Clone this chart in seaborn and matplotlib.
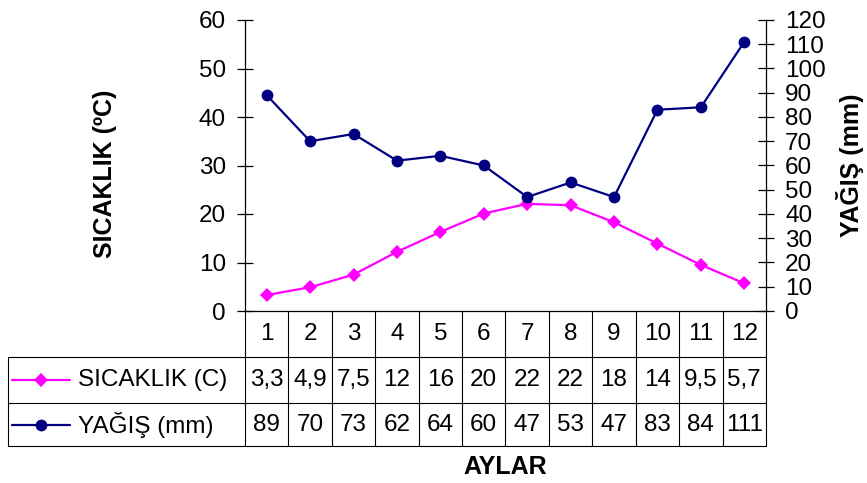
import matplotlib
matplotlib.use("Agg")
import matplotlib.pyplot as plt
import matplotlib.transforms as mtransforms
import seaborn as sns

# monthly climate data
months = [1, 2, 3, 4, 5, 6, 7, 8, 9, 10, 11, 12]
temperature = [3.3, 4.9, 7.5, 12.2, 16.3, 20.1, 22.1, 21.8, 18.3, 13.9, 9.5, 5.7]
precipitation = [89, 70, 73, 62, 64, 60, 47, 53, 47, 83, 84, 111]
temp_label = "SICAKLIK (C)"
rain_label = "YAĞIŞ (mm)"
temp_ticks = [0, 10, 20, 30, 40, 50, 60]
rain_ticks = [0, 10, 20, 30, 40, 50, 60, 70, 80, 90, 100, 110, 120]

PINK = "#FF00FF"
NAVY = "#000080"


def fmt_value(v):
    # Excel-style display in a narrow cell, Turkish decimal comma
    if v >= 10:
        return f"{v:.0f}"
    return f"{v:.1f}".replace(".", ",")


sns.set_style("white")
plt.rcParams["font.family"] = ["Liberation Sans", "DejaVu Sans"]
plt.rcParams.update({"text.color": "black", "axes.labelcolor": "black",
                     "xtick.color": "black", "ytick.color": "black"})

fig = plt.figure(figsize=(8.67, 4.83), dpi=100)
W, H = 867, 483
ax = fig.add_axes([245 / W, 1 - 311 / H, (766 - 245) / W, (311 - 20) / H])
ax2 = ax.twinx()

sns.lineplot(x=months, y=temperature, ax=ax, color=PINK, marker="D",
             markersize=7, markeredgewidth=0, linewidth=1.6)
sns.lineplot(x=months, y=precipitation, ax=ax2, color=NAVY, marker="o",
             markersize=8.5, markeredgewidth=0, linewidth=1.6)

ax.set_xlim(0.5, 12.5)
ax.set_ylim(0, 60)
ax2.set_ylim(0, 120)
ax.set_yticks(temp_ticks)
ax2.set_yticks(rain_ticks)
ax.set_xticks([])

for a in (ax, ax2):
    a.set_facecolor("none")
    a.grid(False)
    for s in a.spines.values():
        s.set_color("black")
        s.set_linewidth(0.9)
    a.spines["top"].set_visible(False)
ax.spines["right"].set_visible(False)
ax2.spines["left"].set_visible(False)
ax2.spines["bottom"].set_visible(False)

ax.tick_params(axis="y", direction="inout", length=11.5, width=0.9,
               labelsize=17.5, pad=8, left=True, colors="black")
ax2.tick_params(axis="y", direction="inout", length=11.5, width=0.9,
                labelsize=17.5, pad=8, right=True, colors="black")

ax.set_ylabel("SICAKLIK (ºC)", fontsize=18, fontweight="bold",
              va="center", ha="center", color="black")
ax.yaxis.set_label_coords(-0.269, 0.47)
ax2.set_ylabel(rain_label, fontsize=18, fontweight="bold", rotation=90,
               va="center", ha="center", color="black")
ax2.yaxis.set_label_coords(1.161, 0.5)

# data table under the axis
blend = mtransforms.blended_transform_factory(ax.transData, ax.transAxes)
line_kw = dict(color="black", lw=0.8, clip_on=False)
y_head = -0.158
y_mid = -0.316
y_bot = -0.464
x_left = -0.455

for m in months[:-1]:
    ax.plot([m + 0.5, m + 0.5], [0, y_bot], transform=blend, **line_kw)
ax.plot([1, 1], [0, y_bot], transform=ax.transAxes, **line_kw)
ax.plot([0, 0], [0, y_bot], transform=ax.transAxes, **line_kw)
ax.plot([x_left, x_left], [y_head, y_bot], transform=ax.transAxes, **line_kw)
for yy in (y_head, y_mid, y_bot):
    ax.plot([x_left, 1], [yy, yy], transform=ax.transAxes, **line_kw)

for m, t, p in zip(months, temperature, precipitation):
    ax.text(m, -0.079, str(m), transform=blend, ha="center", va="center", fontsize=17.5)
    ax.text(m, -0.237, fmt_value(t), transform=blend, ha="center", va="center", fontsize=17.5)
    ax.text(m, -0.392, str(p), transform=blend, ha="center", va="center", fontsize=17.5)

# legend keys inside the table
for yy, col, mk, ms, lab in ((-0.237, PINK, "D", 7, temp_label),
                             (-0.392, NAVY, "o", 8.5, rain_label)):
    ax.plot([-0.447, -0.336], [yy, yy], transform=ax.transAxes, color=col,
            lw=1.6, clip_on=False)
    ax.plot([-0.392], [yy], transform=ax.transAxes, color=col, marker=mk,
            markersize=ms, markeredgewidth=0, clip_on=False)
    ax.text(-0.321, yy, lab, transform=ax.transAxes, ha="left", va="center",
            fontsize=17.5)

ax.text(6.5, -0.536, "AYLAR", transform=blend, ha="center", va="center",
        fontsize=18, fontweight="bold")

fig.savefig("out.png", dpi=100)
plt.close(fig)
